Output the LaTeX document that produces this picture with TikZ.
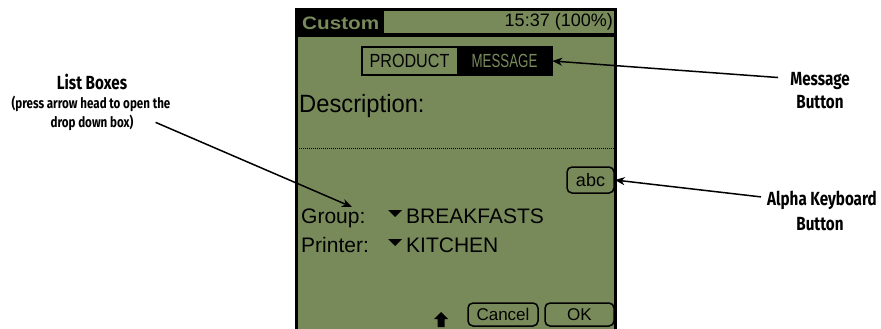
\documentclass[tikz,border=0pt]{standalone}
\usepackage{fontspec}
\usepackage{graphicx}
\usetikzlibrary{arrows.meta,calc}
\newfontfamily\lblfont[FakeStretch=0.8]{Fira Sans}
\newfontfamily\scrfont{Liberation Sans}
\definecolor{lcd}{RGB}{121,138,90}
\newcommand\hs[2]{\scalebox{#1}[1]{#2}}
\begin{document}
\begin{tikzpicture}[x=1pt,y=-1pt,
  lbl/.style={font=\lblfont\bfseries\fontsize{19}{19}\selectfont, inner sep=0, anchor=base},
  lbls/.style={font=\lblfont\bfseries\fontsize{14.5}{14.5}\selectfont, inner sep=0, anchor=base},
  scr/.style={font=\scrfont\fontsize{21}{21}\selectfont, inner sep=0, anchor=base west},
  arr/.style={-{Stealth[length=10pt,width=8pt,inset=3pt]}, line width=1.5pt},
  btn/.style={draw, line width=1.5pt, rounded corners=5pt, inner sep=0}]
\useasboundingbox (0,0) rectangle (881,329);
\fill[white] (0,0) rectangle (881,329);
% screen
\fill[lcd] (296,8) rectangle (616,340);
\draw[line width=3pt] (296.5,340) -- (296.5,9.5) -- (615.5,9.5) -- (615.5,340);
\fill (295,8) rectangle (384,37);
\fill (384,33) rectangle (617,37);
\node[scr, font=\scrfont\bfseries\fontsize{18}{18}\selectfont, text=lcd] (custom) at (302,30) {\hs{1.15}{Custom}};
\node[scr, font=\scrfont\fontsize{18}{18}\selectfont, anchor=base east] (clock) at (613,27) {15:37 (100\%)};
% tabs
\node[inner sep=0, minimum width=95pt, minimum height=28pt, font=\scrfont\fontsize{19}{19}\selectfont] (prod) at (409.5,61) {\hs{0.85}{PRODUCT}};
\node[fill=black, text=lcd, inner sep=0, minimum width=95pt, minimum height=28pt, font=\scrfont\fontsize{19}{19}\selectfont] (msgtab) at (504.5,61) {\hs{0.7}{MESSAGE}};
\draw[line width=1.5pt] (prod.north west) rectangle (msgtab.south east);
% description
\node[scr, font=\scrfont\fontsize{25}{25}\selectfont] (desc) at (299,113) {\hs{0.95}{Description:}};
\draw[line width=1pt, dash pattern=on 1pt off 1pt] (299,148) -- (614,148);
\node[btn, minimum width=47pt, minimum height=26pt, font=\scrfont\fontsize{18}{18}\selectfont] (abc) at (590.5,180) {abc};
% lists
\node[scr] (grouplbl) at (301,223) {Group:};
\fill (388,210) -- (402,210) -- (395,217) -- cycle;
\node[scr] (groupval) at (406,223) {BREAKFASTS};
\node[scr] (prnlbl) at (301,252) {Printer:};
\fill (388,239) -- (402,239) -- (395,246) -- cycle;
\node[scr] (prnval) at (406,252) {KITCHEN};
% bottom
\fill (441,312) -- (448,319) -- (444.5,319) -- (444.5,327) -- (437.5,327) -- (437.5,319) -- (434,319) -- cycle;
\node[btn, minimum width=70pt, minimum height=23pt, font=\scrfont\fontsize{17}{17}\selectfont] (cancel) at (503,314.5) {Cancel};
\node[btn, minimum width=69pt, minimum height=23pt, font=\scrfont\fontsize{17}{17}\selectfont] (ok) at (579.5,314.5) {OK};
% labels
\node[lbl] (lb1) at (92,89) {List Boxes};
\node[lbls] (lb2) at (91,108) {(press arrow head to open the};
\node[lbls] (lb3) at (92,127) {drop down box)};
\coordinate (grp) at (352,207);
\draw[arr] ($(lb3.east)+(22,0)$) -- (grp);
\node[lbl] (mb1) at (820,85) {Message};
\node[lbl] (mb2) at (820,108) {Button};
\draw[arr] ($(mb1.west)+(-12,-3)$) -- (msgtab.east);
\node[lbl] (ak1) at (822,205) {Alpha Keyboard};
\node[lbl] (ak2) at (820,230) {Button};
\draw[arr] ($(ak1.west)+(-6,-3)$) -- (abc.east);
\end{tikzpicture}
\end{document}
